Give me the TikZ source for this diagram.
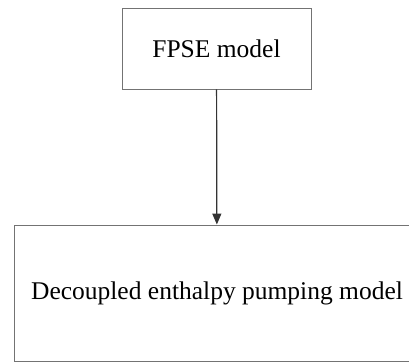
\documentclass[tikz,border=0pt]{standalone}
\usepackage{fontspec}
\setmainfont{Liberation Serif}
\usetikzlibrary{arrows.meta}

\tikzset{
  modelbox/.style={draw=black!55, line width=0.9pt, fill=white, inner sep=0pt,
    font=\fontsize{25.5}{30}\selectfont},
  flow/.style={draw=black!80, line width=1.2pt, -{Triangle[length=11pt,width=9pt]}}
}

\begin{document}
\begin{tikzpicture}[x=1pt, y=-1pt]
  \useasboundingbox (0,0) rectangle (409,363);

  \node[modelbox, minimum width=189pt, minimum height=81pt] (fpse) at (216.5,48.5) {FPSE model};
  \node[modelbox, minimum width=406pt, minimum height=136pt] (dep) at (217,293) {Decoupled enthalpy pumping model};

  \draw[flow] (fpse) -- (dep);
\end{tikzpicture}
\end{document}
